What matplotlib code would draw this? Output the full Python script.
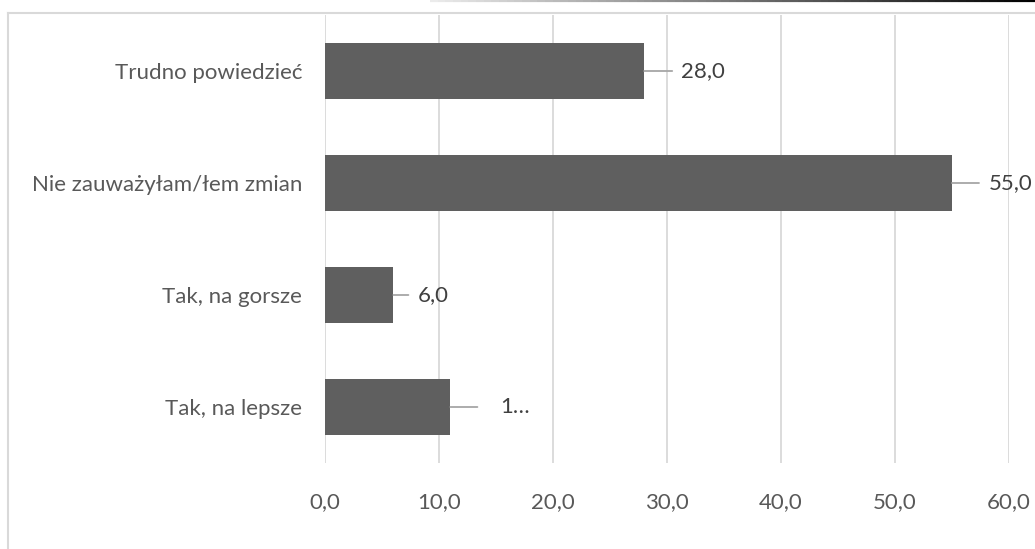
import matplotlib
matplotlib.use("Agg")
import matplotlib.pyplot as plt
from matplotlib.collections import LineCollection
import numpy as np

categories = ["Tak, na lepsze", "Tak, na gorsze", "Nie zauważyłam/łem zmian", "Trudno powiedzieć"]
values = [11.0, 6.0, 55.0, 28.0]
value_labels = ["1…", "6,0", "55,0", "28,0"]
xticks = [0, 10, 20, 30, 40, 50, 60]
xtick_labels = ["0,0", "10,0", "20,0", "30,0", "40,0", "50,0", "60,0"]

W, H = 1035, 549
fig = plt.figure(figsize=(W / 100, H / 100), dpi=100)
plt.rcParams['font.family'] = ['Lato', 'DejaVu Sans']

ax = fig.add_axes([325 / W, 1 - 463 / H, (1009 - 325) / W, (463 - 15) / H])
ypos = np.arange(len(categories))
ax.barh(ypos, values, height=0.5, color="#5f5f5f", zorder=3)
ax.set_xlim(0, 60)
ax.set_ylim(-0.5, len(categories) - 0.5)
ax.set_xticks(xticks)
ax.set_xticklabels(xtick_labels)
ax.set_yticks(ypos)
ax.set_yticklabels(categories)
ax.tick_params(axis='both', length=0, labelsize=16, colors="#595959")
ax.tick_params(axis='y', pad=16.5)
ax.tick_params(axis='x', pad=21)
for s in ax.spines.values():
    s.set_visible(False)
ax.grid(axis='x', color="#d9d9d9", linewidth=1.3, zorder=0)
ax.set_axisbelow(True)

# leader lines and labels (offsets in pixels)
lead_len = [27, 15, 27, 28]
text_off = [50, 24, 37, 37]
px = 0.72
for y, v, lab, ll, to in zip(ypos, values, value_labels, lead_len, text_off):
    ax.annotate("", xy=(v, y), xytext=(ll * px, 0), textcoords="offset points",
                arrowprops=dict(arrowstyle="-", color="#a6a6a6", lw=1.3,
                                shrinkA=0, shrinkB=0), zorder=4)
    ax.annotate(lab, xy=(v, y), xytext=(to * px, 0), textcoords="offset points",
                ha="left", va="center", fontsize=16, color="#404040")

# outer chart border (cropped)
fig.add_artist(plt.Line2D([7.5 / W, 7.5 / W], [0, 1 - 13 / H], color="#d9d9d9", lw=1.5,
                          transform=fig.transFigure))
fig.add_artist(plt.Line2D([7.5 / W, 1], [1 - 13 / H, 1 - 13 / H], color="#d9d9d9", lw=1.5,
                          transform=fig.transFigure))

# top gradient line
xs = np.linspace(430 / W, 1, 80)
segs = [[(xs[i], 1 - 0.8 / H), (xs[i + 1], 1 - 0.8 / H)] for i in range(len(xs) - 1)]
g = np.linspace(0.92, 0.0, len(segs))
cols = [(c, c, c) for c in g]
lc = LineCollection(segs, colors=cols, linewidths=1.6, transform=fig.transFigure)
fig.add_artist(lc)

fig.savefig("out.png", dpi=100)
